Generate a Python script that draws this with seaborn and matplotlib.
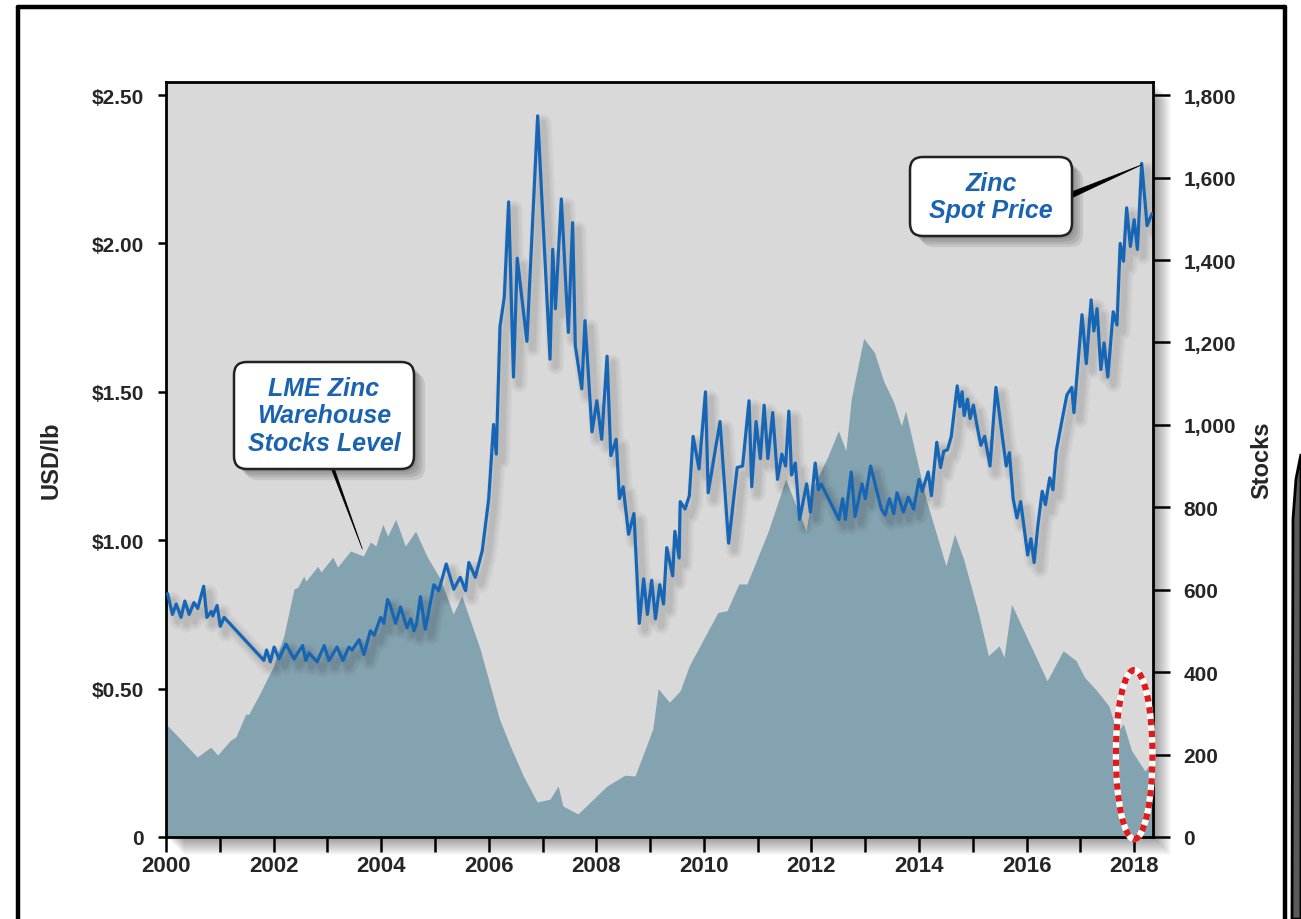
import matplotlib
matplotlib.use("Agg")
import matplotlib.pyplot as plt
import matplotlib.patheffects as pe
from matplotlib.patches import FancyBboxPatch, Ellipse, Rectangle, Polygon
from matplotlib.lines import Line2D
from matplotlib.ticker import FixedLocator
import seaborn as sns

# ---------------- data ----------------
price_years = [2000.03, 2000.12, 2000.19, 2000.28, 2000.35, 2000.43, 2000.52, 2000.59, 2000.70, 2000.76,
               2000.84, 2000.87, 2000.95, 2001.01, 2001.08, 2001.82, 2001.87, 2001.94, 2002.01, 2002.10,
               2002.23, 2002.38, 2002.54, 2002.60, 2002.66, 2002.81, 2002.94, 2003.03, 2003.18, 2003.29,
               2003.40, 2003.46, 2003.59, 2003.68, 2003.80, 2003.87, 2003.99, 2004.05, 2004.12, 2004.17,
               2004.27, 2004.36, 2004.48, 2004.55, 2004.61, 2004.66, 2004.73, 2004.79, 2004.82, 2004.98,
               2005.07, 2005.21, 2005.35, 2005.47, 2005.57, 2005.63, 2005.75, 2005.88, 2006.00, 2006.09,
               2006.14, 2006.21, 2006.29, 2006.37, 2006.46, 2006.53, 2006.71, 2006.91, 2007.14, 2007.19,
               2007.24, 2007.35, 2007.48, 2007.56, 2007.61, 2007.73, 2007.79, 2007.92, 2008.01, 2008.10,
               2008.20, 2008.27, 2008.37, 2008.43, 2008.50, 2008.60, 2008.70, 2008.80, 2008.88, 2008.95,
               2009.03, 2009.10, 2009.18, 2009.25, 2009.31, 2009.42, 2009.46, 2009.54, 2009.56, 2009.65,
               2009.73, 2009.80, 2009.91, 2010.03, 2010.08, 2010.30, 2010.46, 2010.62, 2010.72, 2010.84,
               2010.89, 2010.97, 2011.05, 2011.12, 2011.19, 2011.28, 2011.37, 2011.45, 2011.52, 2011.58,
               2011.63, 2011.70, 2011.78, 2011.91, 2011.98, 2012.07, 2012.13, 2012.18, 2012.51, 2012.58,
               2012.63, 2012.74, 2012.81, 2012.94, 2013.00, 2013.10, 2013.30, 2013.37, 2013.45, 2013.53,
               2013.59, 2013.71, 2013.80, 2013.90, 2014.00, 2014.06, 2014.17, 2014.23, 2014.33, 2014.40,
               2014.46, 2014.53, 2014.60, 2014.71, 2014.76, 2014.80, 2014.84, 2014.90, 2014.95, 2015.01,
               2015.10, 2015.15, 2015.22, 2015.32, 2015.43, 2015.62, 2015.68, 2015.75, 2015.82, 2015.89,
               2016.02, 2016.08, 2016.14, 2016.21, 2016.29, 2016.35, 2016.43, 2016.49, 2016.55, 2016.68,
               2016.75, 2016.84, 2016.88, 2017.03, 2017.11, 2017.20, 2017.25, 2017.31, 2017.38, 2017.44,
               2017.51, 2017.61, 2017.68, 2017.74, 2017.80, 2017.86, 2017.93, 2018.00, 2018.06, 2018.14,
               2018.24, 2018.33]
price_usd = [0.82, 0.75, 0.785, 0.74, 0.795, 0.75, 0.79, 0.77, 0.845, 0.74,
             0.76, 0.745, 0.78, 0.71, 0.74, 0.595, 0.63, 0.59, 0.64, 0.60,
             0.65, 0.60, 0.645, 0.595, 0.62, 0.59, 0.645, 0.595, 0.64, 0.595,
             0.64, 0.63, 0.665, 0.615, 0.695, 0.68, 0.74, 0.72, 0.80, 0.78,
             0.72, 0.775, 0.705, 0.735, 0.695, 0.72, 0.81, 0.735, 0.70, 0.85,
             0.83, 0.92, 0.835, 0.875, 0.83, 0.925, 0.875, 0.965, 1.14, 1.39,
             1.29, 1.72, 1.82, 2.14, 1.55, 1.95, 1.67, 2.43, 1.61, 1.98,
             1.78, 2.15, 1.70, 2.07, 1.655, 1.51, 1.74, 1.365, 1.47, 1.34,
             1.62, 1.285, 1.34, 1.14, 1.18, 1.02, 1.09, 0.72, 0.87, 0.75,
             0.865, 0.735, 0.85, 0.785, 0.975, 0.88, 1.03, 0.94, 1.13, 1.105,
             1.15, 1.35, 1.24, 1.50, 1.16, 1.40, 0.99, 1.245, 1.25, 1.47,
             1.18, 1.40, 1.275, 1.455, 1.275, 1.43, 1.205, 1.29, 1.25, 1.435,
             1.22, 1.26, 1.07, 1.19, 1.095, 1.26, 1.17, 1.19, 1.07, 1.14,
             1.07, 1.23, 1.08, 1.19, 1.14, 1.25, 1.105, 1.085, 1.14, 1.09,
             1.16, 1.095, 1.145, 1.105, 1.205, 1.165, 1.23, 1.15, 1.33, 1.245,
             1.30, 1.305, 1.35, 1.52, 1.45, 1.50, 1.42, 1.475, 1.41, 1.455,
             1.365, 1.32, 1.35, 1.25, 1.515, 1.25, 1.295, 1.14, 1.075, 1.13,
             0.95, 1.005, 0.925, 1.05, 1.165, 1.12, 1.21, 1.17, 1.30, 1.425,
             1.49, 1.515, 1.43, 1.76, 1.595, 1.81, 1.705, 1.78, 1.575, 1.665,
             1.55, 1.77, 1.725, 2.00, 1.94, 2.12, 1.99, 2.08, 1.98, 2.27,
             2.06, 2.10]

stock_years = [2000.00, 2000.25, 2000.58, 2000.83, 2000.96, 2001.20, 2001.30, 2001.48, 2001.54, 2001.76,
               2002.00, 2002.19, 2002.38, 2002.45, 2002.56, 2002.60, 2002.82, 2002.88, 2003.10, 2003.19,
               2003.43, 2003.67, 2003.80, 2003.90, 2004.03, 2004.12, 2004.27, 2004.45, 2004.64, 2004.86,
               2005.10, 2005.34, 2005.50, 2005.84, 2006.20, 2006.40, 2006.64, 2006.90, 2007.14, 2007.29,
               2007.38, 2007.66, 2008.20, 2008.53, 2008.72, 2009.05, 2009.15, 2009.36, 2009.56, 2009.73,
               2010.26, 2010.43, 2010.65, 2010.80, 2011.19, 2011.52, 2011.90, 2012.04, 2012.31, 2012.50,
               2012.64, 2012.74, 2012.97, 2013.17, 2013.34, 2013.53, 2013.67, 2013.75, 2013.90, 2014.13,
               2014.50, 2014.66, 2014.83, 2015.10, 2015.29, 2015.49, 2015.58, 2015.72, 2016.02, 2016.38,
               2016.68, 2016.92, 2017.08, 2017.28, 2017.53, 2017.68, 2017.80, 2017.95, 2018.05, 2018.20,
               2018.33]
stock_kt = [274, 240, 194, 218, 199, 235, 243, 298, 298, 352,
            415, 488, 602, 606, 633, 621, 657, 643, 679, 655,
            694, 682, 716, 706, 759, 730, 771, 706, 742, 679,
            626, 541, 585, 456, 286, 221, 149, 85, 92, 124,
            75, 56, 124, 150, 148, 262, 360, 327, 355, 416,
            545, 549, 614, 614, 740, 868, 743, 852, 925, 986,
            937, 1063, 1210, 1176, 1107, 1055, 998, 1034, 949, 820,
            658, 735, 674, 545, 440, 464, 436, 565, 480, 379,
            452, 428, 387, 359, 318, 254, 275, 210, 190, 160,
            185]

year_ticks = list(range(2000, 2019, 2))
year_minor = list(range(2001, 2019, 2))
year_labels = [str(y) for y in year_ticks]
price_ticks = [0, 0.5, 1.0, 1.5, 2.0, 2.5]
price_labels = ["0", "$0.50", "$1.00", "$1.50", "$2.00", "$2.50"]
stock_ticks = [0, 200, 400, 600, 800, 1000, 1200, 1400, 1600, 1800]
stock_labels = ["0", "200", "400", "600", "800", "1,000", "1,200", "1,400", "1,600", "1,800"]

# ---------------- style ----------------
sns.set_style("white")
plt.rcParams['font.family'] = ['Liberation Sans', 'DejaVu Sans']
NARROW = ['Liberation Sans Narrow', 'Liberation Sans', 'DejaVu Sans']
WIDE = ['Liberation Sans', 'DejaVu Sans']
BG = '#d9d9d9'
AREA = '#84a3b0'
LINE = '#1766b5'
TXT_BLUE = '#1a63b0'

W, H = 1301, 920
L, R, B, T = 166, 1153, 838, 83
fig = plt.figure(figsize=(W / 100, H / 100), dpi=100)
fig.patch.set_facecolor('white')

ax = fig.add_axes([L / W, 1 - B / H, (R - L) / W, (B - T) / H])
ax2 = ax.twinx()

# axes drop shadow (right / bottom), soft gradient
for d in range(1, 19, 1):
    fig.add_artist(Rectangle(((L + d) / W, 1 - (B + d) / H), (R - L) / W, (B - T) / H,
                             transform=fig.transFigure, fc='black', ec='none',
                             alpha=0.022, zorder=-5))

# stocks area (right axis)
ax.set_facecolor(BG)
ax.fill_between(stock_years, stock_kt, 0, color=AREA, lw=0, zorder=1)

# price line (left axis) with a soft drop shadow
line_shadow = [pe.SimpleLineShadow(offset=(4, -5), shadow_color='black', alpha=0.035, linewidth=w)
               for w in (12, 9, 6, 4)]
sns.lineplot(x=price_years, y=price_usd, ax=ax2, color=LINE, lw=2.3, sort=False,
             estimator=None, zorder=3, path_effects=line_shadow + [pe.Normal()])

ax.set_xlim(2000, 2018.35)
ax.set_ylim(0, 1832)
ax2.set_ylim(0, 2.544)

# axis placement: price on left, stocks on right
ax.yaxis.tick_right()
ax.yaxis.set_label_position('right')
ax2.yaxis.tick_left()
ax2.yaxis.set_label_position('left')

ax.yaxis.set_major_locator(FixedLocator(stock_ticks))
ax.set_yticklabels(stock_labels)
ax2.yaxis.set_major_locator(FixedLocator(price_ticks))
ax2.set_yticklabels(price_labels)
ax.xaxis.set_major_locator(FixedLocator(year_ticks))
ax.xaxis.set_minor_locator(FixedLocator(year_minor))
ax.set_xticklabels(year_labels)

for s in ax.spines.values():
    s.set_color('black')
    s.set_linewidth(2.0)
for s in ax2.spines.values():
    s.set_visible(False)

ax.tick_params(axis='x', which='both', direction='out', length=11, width=1.8, color='black',
               pad=2, labelsize=16, bottom=True, top=False)
ax.tick_params(axis='y', which='both', direction='out', length=12, width=1.8, color='black',
               pad=10, labelsize=15, right=True, left=False, labelright=True, labelleft=False)
ax2.tick_params(axis='y', which='both', direction='out', length=6, width=1.8, color='black',
                pad=10, labelsize=15, left=True, right=False, labelleft=True, labelright=False)

for lbl in ax.get_xticklabels():
    lbl.set_family(NARROW)
    lbl.set_fontweight('bold')
for lbl in ax.get_yticklabels() + ax2.get_yticklabels():
    lbl.set_family(WIDE)
    lbl.set_fontweight('bold')

ax2.set_ylabel('USD/lb', fontsize=17, fontweight='bold', family=NARROW)
ax2.yaxis.set_label_coords(-0.105, 0.5)
ax.set_ylabel('Stocks', fontsize=17, fontweight='bold', family=NARROW)
ax.yaxis.set_label_coords(1.099, 0.5)
ax.set_xlabel('')
ax2.set_xlabel('')


def frac(px, py):
    return ((px - L) / (R - L), (B - py) / (B - T))


box_shadow = [pe.SimplePatchShadow(offset=(d, -d), shadow_rgbFace='black', alpha=0.09)
              for d in (2, 4, 6, 8)] + [pe.Normal()]


def callout(x0, y0, x1, y1, text):
    fx0, fy0 = frac(x0, y1)
    fx1, fy1 = frac(x1, y0)
    box = FancyBboxPatch((fx0, fy0), fx1 - fx0, fy1 - fy0,
                         boxstyle="round,pad=0,rounding_size=0.013",
                         mutation_aspect=(R - L) / (B - T),
                         transform=ax2.transAxes, fc='white', ec='#222222', lw=1.8,
                         zorder=6, clip_on=False)
    box.set_path_effects(box_shadow)
    ax2.add_patch(box)
    ax2.text((fx0 + fx1) / 2, (fy0 + fy1) / 2, text, transform=ax2.transAxes,
             ha='center', va='center', fontsize=18, fontweight='bold', fontstyle='italic',
             color=TXT_BLUE, family=WIDE, linespacing=1.2, zorder=7)


# pointers (drawn under the boxes)
ax2.annotate('', xy=(2003.65, 699), xycoords=ax.transData,
             xytext=frac(330, 462), textcoords='axes fraction',
             arrowprops=dict(arrowstyle='wedge,tail_width=0.22,shrink_factor=0.5',
                             fc='black', ec='black', lw=0.5, shrinkA=0, shrinkB=0),
             zorder=5)
ax2.annotate('', xy=(2018.14, 2.265), xycoords='data',
             xytext=frac(1062, 200), textcoords='axes fraction',
             arrowprops=dict(arrowstyle='wedge,tail_width=0.45,shrink_factor=0.5',
                             fc='black', ec='black', lw=0.5, shrinkA=0, shrinkB=0),
             zorder=5)

callout(234, 363, 414, 470, "LME Zinc\nWarehouse\nStocks Level")
callout(910, 158, 1072, 237, "Zinc\nSpot Price")

# red dotted ellipse highlighting latest stocks
ell_w = Ellipse((2018.0, 200), 0.68, 410, transform=ax.transData, fill=False,
                ec='white', lw=4.5, zorder=8, clip_on=False)
ell_r = Ellipse((2018.0, 200), 0.68, 410, transform=ax.transData, fill=False,
                ec='#e01b1b', lw=4.5, ls=(0, (1.0, 0.9)), zorder=9, clip_on=False)
ax2.add_patch(ell_w)
ax2.add_patch(ell_r)

# page frame
fw = 3.2
fig.add_artist(Line2D([18 / W, 18 / W], [0, 1 - 8 / H], transform=fig.transFigure, color='black', lw=fw))
fig.add_artist(Line2D([18 / W, 1285 / W], [1 - 8 / H, 1 - 8 / H], transform=fig.transFigure, color='black', lw=fw))
fig.add_artist(Line2D([1285 / W, 1285 / W], [0, 1 - 8 / H], transform=fig.transFigure, color='black', lw=fw))
fig.add_artist(Polygon([(1292 / W, 0), (1293 / W, 1 - 520 / H), (1296 / W, 1 - 480 / H),
                        (1301 / W, 1 - 455 / H), (1301 / W, 0)], closed=True,
                       transform=fig.transFigure, fc='#5a5a5a', ec='black', lw=2))

fig.savefig('out.png', dpi=100, facecolor='white')
